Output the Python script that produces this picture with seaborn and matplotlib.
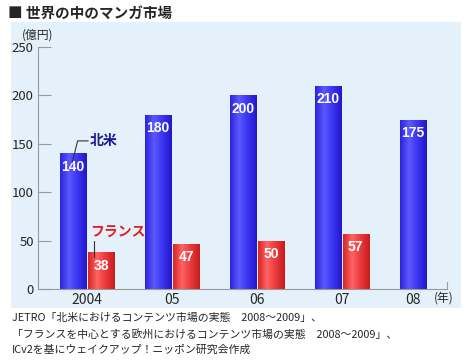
import numpy as np
import pandas as pd
import matplotlib.pyplot as plt
import seaborn as sns
from matplotlib.patches import Rectangle
from matplotlib.colors import LinearSegmentedColormap

# data (億円)
years = ["2004", "05", "06", "07", "08"]
north_america = [140, 180, 200, 210, 175]
france = [38, 47, 50, 57, None]
series_names = ["北米", "フランス"]
series_colors = ["#3a33f0", "#e8383c"]
# left-to-right shading of the bars
shades = [["#2c22dc", "#5a5aff", "#3a33f0", "#2218c8"],
          ["#d82424", "#ff6464", "#e8383c", "#c81c1c"]]

df = pd.DataFrame({
    "year": years * 2,
    "region": [series_names[0]] * len(years) + [series_names[1]] * len(years),
    "value": north_america + france,
})

sns.set_style("white")
plt.rcParams["font.family"] = ["Noto Sans CJK JP", "DejaVu Sans"]

fig = plt.figure(figsize=(4.7, 3.6), dpi=100)
# light blue panel behind the chart
fig.patches.append(Rectangle((11 / 470, 1 - 308 / 360), 450 / 470, 286 / 360,
                             transform=fig.transFigure, facecolor="#e4f1fa",
                             edgecolor="none", zorder=-1))
ax = fig.add_axes([38 / 470, 1 - 289 / 360, 409 / 470, 242 / 360])
ax.set_zorder(1)
ax.set_facecolor("none")

sns.barplot(data=df, x="year", y="value", hue="region", palette=series_colors,
            width=0.66, gap=0.07, legend=False, ax=ax, saturation=1,
            linewidth=0)

ax.set_yticks([0, 50, 100, 150, 200, 250])
ax.tick_params(axis="y", left=True, direction="in", length=9, width=0.8,
               color="#999999", labelsize=9.5, pad=3)
ax.tick_params(axis="x", length=0, labelsize=10, pad=3)
ax.set_xlabel("")
ax.set_ylabel("")
for s in ["top", "right"]:
    ax.spines[s].set_visible(False)
for s in ["left", "bottom"]:
    ax.spines[s].set_color("#999999")
ax.plot([1, 1], [0, 0.03], transform=ax.transAxes, color="#999999",
        lw=0.8, clip_on=False)

# gradient fill, value labels inside the top of each bar
centers = {}
for i, container in enumerate(ax.containers):
    cmap = LinearSegmentedColormap.from_list(f"s{i}", shades[i])
    for bar in container:
        h = bar.get_height()
        if not h or h != h:
            continue
        x0, w = bar.get_x(), bar.get_width()
        im = ax.imshow(np.linspace(0, 1, 64)[None, :], cmap=cmap, aspect="auto",
                       extent=(x0, x0 + w, 0, h), zorder=bar.get_zorder() + 0.1)
        im.set_clip_path(bar)
        cx = x0 + w / 2
        centers.setdefault(round(cx), []).append(cx)
        ax.text(cx, h - 6.5, f"{h:.0f}", ha="center", va="top", color="white",
                fontsize=10, fontweight="bold", family="Liberation Sans",
                zorder=5)
ax.set_xlim(-0.58, 4.24)
ax.set_ylim(0, 250)
ticks = sorted(centers)
ax.set_xticks([sum(centers[k]) / len(centers[k]) for k in ticks])
ax.set_xticklabels(years)

# series callouts
ax.plot([-0.175, -0.113, 0.012], [131, 153, 153], color="#333333", lw=0.8,
        zorder=5)
ax.text(0.03, 153, "北米", color="#1a1a9a", fontsize=10, fontweight="bold",
        va="center", ha="left", zorder=5)
ax.plot([0.077, 0.077], [33, 50], color="#333333", lw=0.8, zorder=5)
ax.text(0.03, 58, "フランス", color="#e02020", fontsize=10,
        fontweight="bold", va="center", ha="left", zorder=5)

fig.text(8 / 470, 1 - 13 / 360, "■ 世界の中のマンガ市場", fontsize=10.5,
         fontweight="bold", va="center", ha="left")
fig.text(22 / 470, 1 - 35 / 360, "(億円)", fontsize=8.5, va="center")
fig.text(434 / 470, 1 - 298 / 360, "(年)", fontsize=8.5, va="center")

notes = [
    "JETRO「北米におけるコンテンツ市場の実態　2008～2009」、",
    "「フランスを中心とする欧州におけるコンテンツ市場の実態　2008～2009」、",
    "ICv2を基にウェイクアップ！ニッポン研究会作成",
]
for i, line in enumerate(notes):
    fig.text(12 / 470, 1 - (318 + 16 * i) / 360, line, fontsize=7.8,
             va="center", ha="left")

fig.savefig("out.png", dpi=100)
plt.close()
